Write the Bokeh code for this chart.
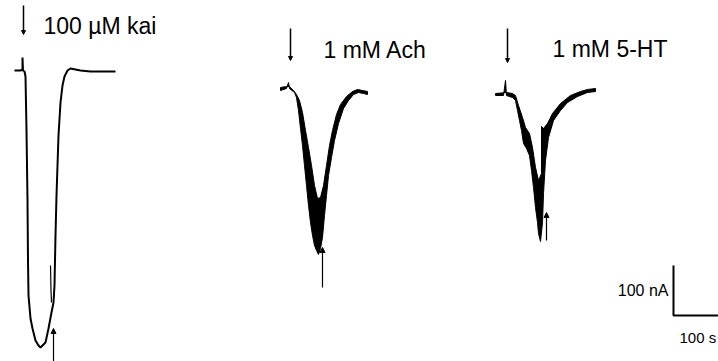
from bokeh.plotting import figure
from bokeh.models import Range1d, Arrow, NormalHead
from bokeh.core.properties import value
from bokeh.embed import file_html
from bokeh.resources import INLINE

# ---- data (time in s relative to drug application, current in nA relative to baseline)
kai_t = [-18, -6, -2, -2, -1, 2, 4, 6, 8, 9, 10, 14, 18, 24, 30, 34, 38, 44, 50, 56, 60,
         62, 64, 66, 68, 70, 74, 78, 82, 88, 94, 104, 114, 134, 154, 184]
kai_i = [0, 0, 2, 26, 0, -2, -12, -120, -260, -380, -450, -496, -516, -540, -550, -554,
         -550, -544, -516, -484, -464, -430, -330, -250, -190, -130, -64, -30, -12, 0, 4,
         2, 0, -2, -2, -2]
kai_artifact_t = [54, 55, 56]
kai_artifact_i = [-390, -440, -464]

# outline of the noisy (thick) Ach response: outer edge then inner edge
ach_t = [-20, -8, -4, -2, 8, 12, 16, 20, 24, 28, 32, 36, 40, 44, 48, 52, 56, 60, 64, 68,
         72, 76, 82, 88, 96, 106, 116, 126, 136, 146, 154,
         154, 144, 134, 124, 112, 100, 92, 84, 78, 72, 66, 60, 54, 48, 42, 36, 30, 24, 18,
         12, 6, -2, -8, -20]
ach_i = [4, 8, 20, 8, 0, -10, -36, -72, -106, -146, -186, -226, -260, -286, -306, -316,
         -324, -312, -290, -246, -206, -166, -130, -96, -62, -32, -16, -4, 0, -2, -4,
         2, 4, 6, 2, -8, -24, -44, -76, -106, -146, -186, -210, -212, -186, -146, -110,
         -76, -40, -16, -4, 4, 12, 12, 10]

# outline of the 5-HT response: outer edge then inner edge
ht_t = [-24, -8, -4, -2, 10, 16, 20, 24, 28, 32, 38, 44, 48, 52, 56, 60, 62, 66, 70, 72,
        76, 82, 92, 106, 120, 140, 160, 176,
        176, 160, 146, 126, 106, 90, 80, 72, 68, 68, 62, 56, 50, 44, 36, 30, 22, 16, 10,
        -2, -24]
ht_i = [0, 0, 30, 0, -4, -10, -30, -50, -70, -96, -106, -120, -150, -184, -224, -254,
        -276, -292, -254, -196, -130, -84, -50, -30, -14, -2, 6, 8,
        14, 12, 8, 0, -16, -36, -56, -66, -62, -156, -170, -144, -104, -76, -64, -44,
        -20, 0, 4, 6, 4]

labels = ["100 \u00b5M kai", "1 mM Ach", "1 mM 5-HT"]
washout_t = [60, 64, 78]          # s after application
scale_nA = 100
scale_s = 100

# ---- layout (global time axis in s, global current axis in nA)
t0 = [46, 580, 1014]              # application times
base = [-140, -184, -190]         # baselines

p = figure(width=718, height=361, output_backend="svg", toolbar_location=None,
           x_range=Range1d(0, 1436), y_range=Range1d(-722, 0), min_border=0)
p.axis.visible = False
p.grid.visible = False
p.outline_line_color = None
p.background_fill_color = "white"
p.border_fill_color = "white"

# kainate trace
p.line([t + t0[0] for t in kai_t], [i + base[0] for i in kai_i], line_color="black",
       line_width=2)
p.line([t + t0[0] for t in kai_artifact_t], [i + base[0] for i in kai_artifact_i],
       line_color="black", line_width=1.2)

# Ach and 5-HT responses
p.patch([t + t0[1] for t in ach_t], [i + base[1] for i in ach_i], fill_color="black",
        line_color="black", line_width=1)
p.patch([t + t0[2] for t in ht_t], [i + base[2] for i in ht_i], fill_color="black",
        line_color="black", line_width=1)

# application markers (downward)
mark_top = [-10, -56, -56]
mark_bot = [-68, -120, -124]
for k in range(3):
    p.add_layout(Arrow(end=NormalHead(size=4, fill_color="black", line_color="black"),
                       x_start=t0[k], y_start=mark_top[k], x_end=t0[k], y_end=mark_bot[k],
                       line_color="black", line_width=1.5))

# washout arrows (upward)
wash_bot = [-730, -574, -480]
wash_top = [-656, -494, -424]
for k in range(3):
    x = t0[k] + washout_t[k]
    p.add_layout(Arrow(end=NormalHead(size=5, fill_color="black", line_color="black"),
                       x_start=x, y_start=wash_bot[k], x_end=x, y_end=wash_top[k],
                       line_color="black", line_width=1.2))

# drug labels
lab_x = [86, 646, 1104]
lab_y = [-50, -98, -96]
p.text(lab_x, lab_y, text=labels, text_font=value("Liberation Sans"),
       text_font_size="23px", text_baseline="middle", text_align="left", text_color="black")

# scale bar
cx, cy = 1346, -630
p.line([cx, cx, cx + scale_s], [cy + scale_nA, cy, cy], line_color="black", line_width=2)
p.text([cx - 10], [cy + 50], text=[f"{scale_nA} nA"], text_font=value("Liberation Sans"),
       text_font_size="16px", text_baseline="middle", text_align="right")
p.text([cx + 12], [cy - 44], text=[f"{scale_s} s"], text_font=value("Liberation Sans"),
       text_font_size="15px", text_baseline="middle", text_align="left")

open("out.html", "w").write(file_html(p, INLINE))
